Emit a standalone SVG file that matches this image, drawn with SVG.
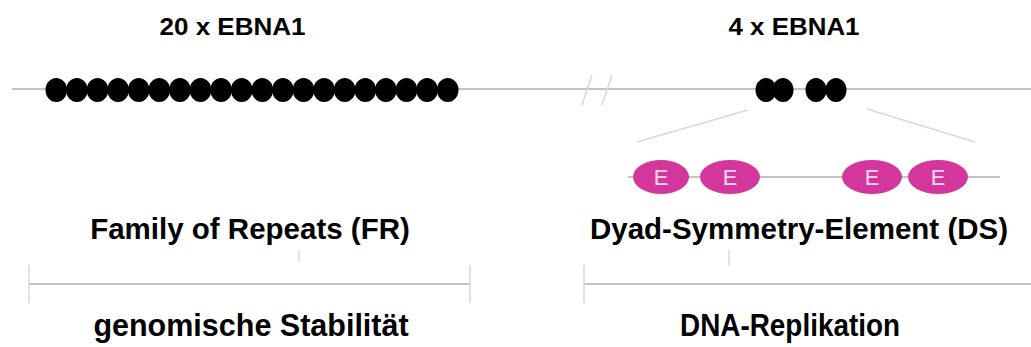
<svg xmlns="http://www.w3.org/2000/svg" width="1031" height="347" viewBox="0 0 1031 347">
  <style>
    .line { stroke: #c4c4c4; stroke-width: 2; fill: none; }
    .faint { stroke: #d8d8d8; stroke-width: 1.5; fill: none; }
    .dot { fill: #000; }
    .ebna { fill: #d4379b; }
    .etext { font-family: "Liberation Sans", Arial, sans-serif; font-size: 22px; fill: #f6d6ec; text-anchor: middle; }
    .label { font-family: "Liberation Sans", Arial, sans-serif; font-weight: bold; fill: #000; text-anchor: middle; }
    .top { font-size: 23px; }
    .mid { font-size: 29.5px; }
    .low { font-size: 30.5px; }
  </style>

  <rect width="1031" height="347" fill="#fff"/>

  <!-- genome backbone and connectors -->
  <g id="connectors">
    <line class="line" x1="12" y1="89" x2="1031" y2="89"/>
    <line class="faint" x1="592" y1="75" x2="582" y2="105"/>
    <line class="faint" x1="612" y1="75" x2="602" y2="105"/>
    <line class="faint" x1="748" y1="110" x2="637" y2="142"/>
    <line class="faint" x1="867" y1="109" x2="975" y2="142"/>
    <line class="line" x1="628" y1="177" x2="1000" y2="177"/>
    <!-- range brackets -->
    <line class="line" x1="29" y1="284" x2="470" y2="284"/>
    <line class="faint" x1="29" y1="265" x2="29" y2="303"/>
    <line class="faint" x1="470" y1="265" x2="470" y2="303"/>
    <line class="line" x1="584" y1="284" x2="1031" y2="284"/>
    <line class="faint" x1="584" y1="265" x2="584" y2="303"/>
    <line class="faint" x1="299" y1="250" x2="299" y2="262" stroke-width="1"/>
    <line class="faint" x1="729" y1="250" x2="729" y2="266" stroke-width="1"/>
  </g>

  <!-- Family of Repeats: 20 bound EBNA1 -->
  <g id="fr-repeats">
    <ellipse class="dot" cx="56.3" cy="90" rx="10.8" ry="12"/>
    <ellipse class="dot" cx="76.9" cy="90" rx="10.8" ry="12"/>
    <ellipse class="dot" cx="97.5" cy="90" rx="10.8" ry="12"/>
    <ellipse class="dot" cx="118.1" cy="90" rx="10.8" ry="12"/>
    <ellipse class="dot" cx="138.7" cy="90" rx="10.8" ry="12"/>
    <ellipse class="dot" cx="159.3" cy="90" rx="10.8" ry="12"/>
    <ellipse class="dot" cx="179.9" cy="90" rx="10.8" ry="12"/>
    <ellipse class="dot" cx="200.5" cy="90" rx="10.8" ry="12"/>
    <ellipse class="dot" cx="221.1" cy="90" rx="10.8" ry="12"/>
    <ellipse class="dot" cx="241.7" cy="90" rx="10.8" ry="12"/>
    <ellipse class="dot" cx="262.3" cy="90" rx="10.8" ry="12"/>
    <ellipse class="dot" cx="282.9" cy="90" rx="10.8" ry="12"/>
    <ellipse class="dot" cx="303.5" cy="90" rx="10.8" ry="12"/>
    <ellipse class="dot" cx="324.1" cy="90" rx="10.8" ry="12"/>
    <ellipse class="dot" cx="344.7" cy="90" rx="10.8" ry="12"/>
    <ellipse class="dot" cx="365.3" cy="90" rx="10.8" ry="12"/>
    <ellipse class="dot" cx="385.9" cy="90" rx="10.8" ry="12"/>
    <ellipse class="dot" cx="406.5" cy="90" rx="10.8" ry="12"/>
    <ellipse class="dot" cx="427.1" cy="90" rx="10.8" ry="12"/>
    <ellipse class="dot" cx="447.7" cy="90" rx="10.8" ry="12"/>
  </g>

  <!-- Dyad Symmetry element: 4 bound EBNA1 -->
  <g id="ds-sites">
    <ellipse class="dot" cx="766" cy="90" rx="10.5" ry="12"/>
    <ellipse class="dot" cx="783" cy="90" rx="10.5" ry="12"/>
    <ellipse class="dot" cx="816" cy="90" rx="10.5" ry="12"/>
    <ellipse class="dot" cx="836" cy="90" rx="10.5" ry="12"/>
  </g>

  <!-- enlarged DS with EBNA1 proteins -->
  <g id="ds-detail">
    <ellipse class="ebna" cx="661" cy="177" rx="28" ry="17"/>
    <text class="etext" x="661" y="185">E</text>
    <ellipse class="ebna" cx="730" cy="177" rx="30" ry="17"/>
    <text class="etext" x="730" y="185">E</text>
    <ellipse class="ebna" cx="872" cy="177" rx="30" ry="17"/>
    <text class="etext" x="872" y="185">E</text>
    <ellipse class="ebna" cx="938" cy="177" rx="30" ry="17"/>
    <text class="etext" x="938" y="185">E</text>
  </g>

  <g id="label-fr-count">
    <text class="label top" x="232.5" y="35" textLength="146" lengthAdjust="spacingAndGlyphs">20 x EBNA1</text>
  </g>
  <g id="label-ds-count">
    <text class="label top" x="794" y="35" textLength="131" lengthAdjust="spacingAndGlyphs">4 x EBNA1</text>
  </g>
  <g id="label-fr">
    <text class="label mid" x="250" y="239">Family of Repeats (FR)</text>
  </g>
  <g id="label-ds">
    <text class="label mid" x="799" y="239">Dyad-Symmetry-Element (DS)</text>
  </g>
  <g id="label-stability">
    <text class="label low" x="251" y="336">genomische Stabilität</text>
  </g>
  <g id="label-replication">
    <text class="label low" x="790" y="336" textLength="220" lengthAdjust="spacingAndGlyphs">DNA-Replikation</text>
  </g>
</svg>
